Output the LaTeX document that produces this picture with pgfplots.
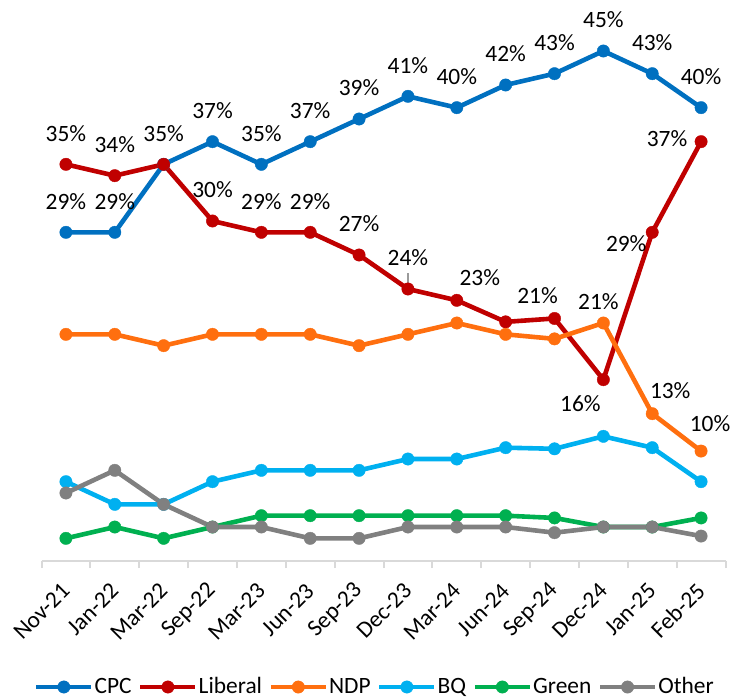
\documentclass[border=0pt]{standalone}
\usepackage{fontspec}
\setmainfont{Carlito}
\usepackage{pgfplots}
\pgfplotsset{compat=1.18}
\usetikzlibrary{calc}

\definecolor{cpc}{HTML}{0070C0}
\definecolor{lib}{HTML}{C00000}
\definecolor{ndp}{HTML}{FF6F0F}
\definecolor{bq}{HTML}{00B0F0}
\definecolor{grn}{HTML}{00B050}
\definecolor{oth}{HTML}{808080}
\definecolor{axgray}{HTML}{D9D9D9}

\begin{document}
\begin{tikzpicture}[lbl/.style={font=\fontsize{11.7}{14}\selectfont, inner sep=0pt, anchor=center}]
\begin{axis}[
    scale only axis,
    width=342pt, height=280.5pt,
    xmin=-0.5, xmax=13.5,
    ymin=0, ymax=49.5,
    axis x line*=bottom,
    axis y line=none,
    x axis line style={draw=axgray, line width=1pt},
    xtick={0,...,13},
    xticklabels={Nov-21,Jan-22,Mar-22,Sep-22,Mar-23,Jun-23,Sep-23,Dec-23,Mar-24,Jun-24,Sep-24,Dec-24,Jan-25,Feb-25},
    major tick length=0pt,
    minor xtick={-0.5,0.5,...,13.5},
    minor tick length=3.5pt,
    tick align=outside,
    minor x tick style={draw=axgray, line width=1pt},
    ytick=\empty,
    xticklabel style={yshift=-13pt, rotate=45, anchor=east, inner sep=0pt, font=\fontsize{11.7}{14}\selectfont},
    clip=false,
    every axis plot/.append style={line width=2.3pt, mark=*, mark size=3.1pt, mark options={solid, line width=0.2pt}},
    legend columns=6,
    legend image code/.code={\draw[mark repeat=2, mark phase=2] plot coordinates {(0pt,0pt) (13.75pt,0pt) (27.5pt,0pt)};},
    legend style={draw=none, at={(0.486,0)}, anchor=center, yshift=-63pt,
        font=\fontsize{11.7}{14}\selectfont, nodes={inner sep=0pt},
        /tikz/every odd column/.append style={column sep=0.5pt},
        /tikz/every even column/.append style={column sep=3.2pt}},
]
% CPC
\addplot[color=cpc] coordinates {
    (0,29)(1,29)(2,35)(3,37)(4,35)(5,37)(6,39)(7,41)(8,40)(9,42)(10,43)(11,45)(12,43)(13,40)};
% Liberal
\addplot[color=lib] coordinates {
    (0,35)(1,34)(2,35)(3,30)(4,29)(5,29)(6,27)(7,24)(8,23)(9,21.1)(10,21.4)(11,16)(12,29)(13,37)};
% NDP
\addplot[color=ndp] coordinates {
    (0,20)(1,20)(2,19)(3,20)(4,20)(5,20)(6,19)(7,20)(8,21)(9,20)(10,19.6)(11,21)(12,13)(13,9.7)};
% BQ
\addplot[color=bq] coordinates {
    (0,7)(1,5)(2,5)(3,7)(4,8)(5,8)(6,8)(7,9)(8,9)(9,10)(10,9.9)(11,11)(12,10)(13,7)};
% Green
\addplot[color=grn] coordinates {
    (0,2)(1,3)(2,2)(3,3)(4,4)(5,4)(6,4)(7,4)(8,4)(9,4)(10,3.8)(11,3)(12,3)(13,3.8)};
% Other
\addplot[color=oth] coordinates {
    (0,6)(1,8)(2,5)(3,3)(4,3)(5,2)(6,2)(7,3)(8,3)(9,3)(10,2.5)(11,3)(12,3)(13,2.2)};
\legend{CPC,Liberal,NDP,BQ,Green,Other}

% data labels, CPC
\foreach \x/\v in {0/29,1/29,2/35,3/37,4/35,5/37,6/39,7/41,8/40,9/42,10/43,11/45,12/43,13/40}{
    \edef\tmp{\noexpand\node[lbl, yshift=15.5pt] at (axis cs:\x,\v) {\v\noexpand\%};}\tmp
}
% data labels, Liberal
\foreach \x/\v in {0/35,1/34,3/30,4/29,5/29,6/27,7/24}{
    \edef\tmp{\noexpand\node[lbl, yshift=15.5pt] at (axis cs:\x,\v) {\v\noexpand\%};}\tmp
}
\draw[oth!80, line width=0.6pt] ([yshift=0.5pt]axis cs:7,24) -- ([yshift=8pt]axis cs:7,24);
\node[lbl, xshift=11.5pt, yshift=11.5pt] at (axis cs:8,23) {23\%};
\node[lbl, xshift=-8.5pt, yshift=11.5pt] at (axis cs:10,21.4) {21\%};
\node[lbl, xshift=-11.5pt, yshift=-12pt] at (axis cs:11,16) {16\%};
\node[lbl, xshift=-13pt, yshift=-5.5pt] at (axis cs:12,29) {29\%};
\node[lbl, xshift=-17pt, yshift=1.5pt] at (axis cs:13,37) {37\%};
% data labels, NDP
\node[lbl, xshift=-2.5pt, yshift=10.5pt] at (axis cs:11,21) {21\%};
\node[lbl, xshift=9pt, yshift=11.5pt] at (axis cs:12,13) {13\%};
\node[lbl, xshift=4.5pt, yshift=13.5pt] at (axis cs:13,9.7) {10\%};

\coordinate (sw) at (rel axis cs:0,0);
\coordinate (ne) at (rel axis cs:1,1);
\end{axis}
\pgfresetboundingbox
\path[use as bounding box] ($(sw)+(-20.75pt,-68.5pt)$) rectangle ($(ne)+(5.75pt,0pt)$);
\end{tikzpicture}
\end{document}
